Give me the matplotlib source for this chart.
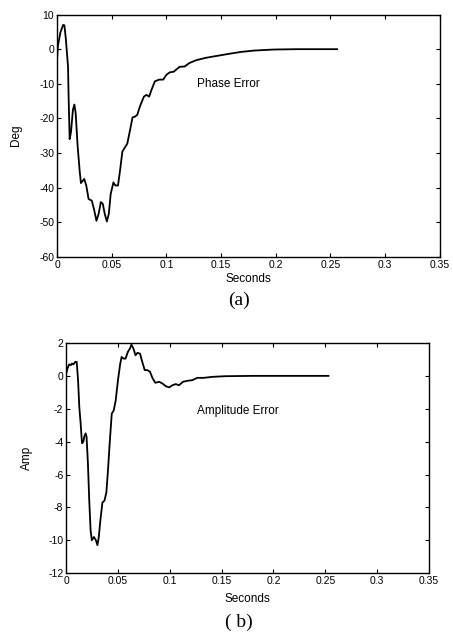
import numpy as np
import matplotlib
matplotlib.use("Agg")
import matplotlib.pyplot as plt

# phase error trace (seconds, degrees)
t_phase = [0, 0.0008, 0.003, 0.0055, 0.0067, 0.008, 0.01, 0.0106, 0.0115, 0.0127,
           0.0145, 0.0158, 0.017, 0.0188, 0.0206, 0.0218, 0.0236, 0.0248, 0.0267,
           0.0288, 0.0318, 0.034, 0.036, 0.038, 0.040, 0.0418, 0.0436, 0.0455,
           0.0473, 0.049, 0.0515, 0.0533, 0.0557, 0.0576, 0.0597, 0.0624, 0.0642,
           0.0667, 0.069, 0.0712, 0.0733, 0.0758, 0.0794, 0.0818, 0.0842, 0.0864,
           0.0894, 0.0933, 0.097, 0.1, 0.103, 0.1067, 0.112, 0.1167, 0.121, 0.127,
           0.136, 0.145, 0.158, 0.168, 0.18, 0.198, 0.219, 0.24, 0.256]
phase = [-3, 1, 4.8, 7, 6.9, 3, -5, -14.6, -26, -24,
         -17.5, -16, -18.5, -28, -35, -38.7, -38, -37.5, -39.4,
         -43.3, -43.8, -46.6, -49.6, -47.6, -44.2, -44.7, -47.6, -49.8,
         -47.6, -41.9, -38.5, -39.4, -39.4, -35, -29.6, -28.2, -27.3,
         -23.4, -19.7, -19.5, -19, -16.5, -13.7, -13.2, -13.7, -11.7,
         -9.3, -8.8, -8.8, -7.4, -6.7, -6.5, -5.1, -5, -4, -3.2,
         -2.5, -2.0, -1.3, -0.8, -0.4, -0.1, 0, 0, 0]

# amplitude error trace (seconds, amp)
t_amp = [0, 0.0013, 0.0029, 0.0045, 0.0057, 0.007, 0.0089, 0.0102, 0.0115, 0.0127,
         0.014, 0.0153, 0.0166, 0.0175, 0.0188, 0.0197, 0.021, 0.0223, 0.0236,
         0.0248, 0.0268, 0.0287, 0.0302, 0.0315, 0.033, 0.035, 0.0369, 0.0388,
         0.0404, 0.042, 0.044, 0.0459, 0.0478, 0.05, 0.0522, 0.0535, 0.0554,
         0.0573, 0.0595, 0.0618, 0.063, 0.065, 0.0669, 0.0688, 0.0713, 0.0732,
         0.0758, 0.0783, 0.0809, 0.0834, 0.086, 0.0898, 0.093, 0.0962, 0.0994,
         0.1025, 0.1057, 0.1089, 0.1127, 0.1169, 0.1217, 0.1264, 0.1328, 0.1408,
         0.1535, 0.18, 0.22, 0.253]
amp = [0.14, 0.45, 0.7, 0.65, 0.75, 0.7, 0.85, 0.85, -0.26, -1.9,
       -2.9, -4.1, -4.0, -3.7, -3.5, -3.7, -5.3, -7.6, -9.4,
       -10.0, -9.8, -10.0, -10.3, -9.8, -8.8, -7.7, -7.6, -7.1,
       -5.7, -4.1, -2.3, -2.1, -1.5, -0.26, 0.75, 1.15, 1.05,
       1.05, 1.45, 1.7, 1.9, 1.65, 1.25, 1.4, 1.35, 0.9,
       0.35, 0.35, 0.25, -0.15, -0.42, -0.36, -0.47, -0.63, -0.7,
       -0.57, -0.5, -0.57, -0.36, -0.3, -0.26, -0.12, -0.12, -0.06,
       -0.02, 0, 0, 0]

xticks = np.arange(0, 0.351, 0.05)
xticklabels = ["0", "0.05", "0.1", "0.15", "0.2", "0.25", "0.3", "0.35"]

plt.rcParams['font.family'] = ['Liberation Sans', 'DejaVu Sans']
plt.rcParams['axes.unicode_minus'] = False

fig = plt.figure(figsize=(4.53, 6.34), dpi=100)
ax1 = fig.add_axes([0.126, 0.595, 0.845, 0.382])
ax2 = fig.add_axes([0.146, 0.096, 0.801, 0.363])


def style(ax, yticks, xlab_y):
    ax.set_xlim(0, 0.35)
    ax.set_xticks(xticks)
    ax.set_xticklabels(xticklabels)
    ax.set_yticks(yticks)
    ax.set_ylim(yticks[0], yticks[-1])
    ax.tick_params(direction='in', top=True, right=True, length=3,
                   width=0.8, labelsize=7.5, pad=2)
    for s in ax.spines.values():
        s.set_linewidth(1.0)
    ax.set_xlabel("Seconds", fontsize=8.5)
    ax.xaxis.set_label_coords(0.5, xlab_y)


ax1.plot(t_phase, phase, color='black', lw=1.3)
style(ax1, np.arange(-60, 11, 10), -0.068)
ax1.set_ylabel("Deg", fontsize=8.5)
ax1.yaxis.set_label_coords(-0.091, 0.5)
ax1.text(0.128, -11, "Phase Error", fontsize=8.5)
fig.text(0.527, 0.527, "(a)", fontsize=14, family='Liberation Serif',
         ha='center', va='center')

ax2.plot(t_amp, amp, color='black', lw=1.3)
style(ax2, np.arange(-12, 3, 2), -0.085)
ax2.set_ylabel("Amp", fontsize=8.5)
ax2.yaxis.set_label_coords(-0.091, 0.5)
ax2.text(0.126, -2.3, "Amplitude Error", fontsize=8.5)
fig.text(0.527, 0.019, "( b)", fontsize=14, family='Liberation Serif',
         ha='center', va='center')

fig.savefig("out.png", dpi=100)
